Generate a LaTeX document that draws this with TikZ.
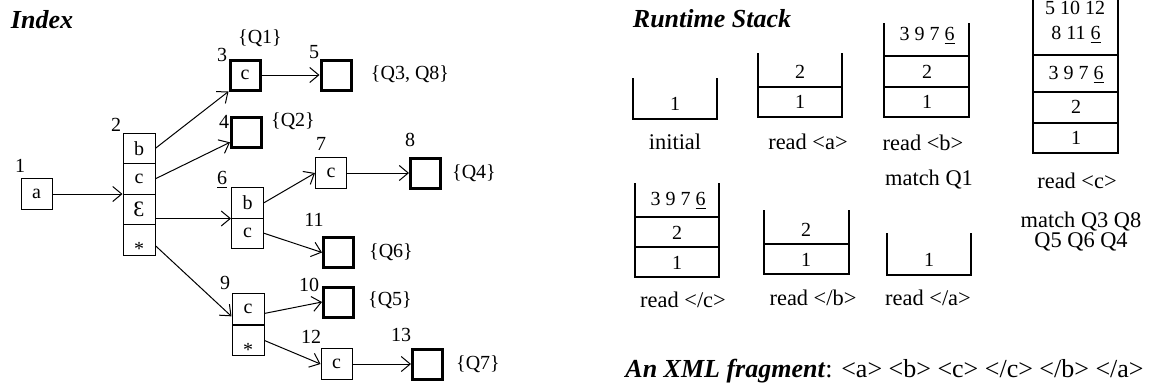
\documentclass[tikz,border=0pt]{standalone}
\usepackage{fontspec}
\setmainfont{Liberation Serif}
\usetikzlibrary{arrows.meta}
\begin{document}
\begin{tikzpicture}[x=0.5pt,y=-0.5pt,
  lbl/.style={font=\fontsize{10}{12}\selectfont, inner sep=0pt},
  stkcap/.style={font=\fontsize{11.2}{13}\selectfont, inner sep=0pt},
  ttl/.style={font=\fontsize{13}{15}\selectfont\bfseries\itshape, inner sep=0pt},
  box/.style={draw, line width=0.5pt, inner sep=0pt, minimum width=15.5pt, minimum height=15.5pt, font=\fontsize{10}{12}\selectfont},
  finalbox/.style={draw, line width=1.5pt, inner sep=0pt, minimum width=15pt, minimum height=15pt, font=\fontsize{10}{12}\selectfont},
  cell/.style={draw, line width=0.5pt, inner sep=0pt, minimum width=16pt, minimum height=15.25pt, font=\fontsize{10}{12}\selectfont},
  arr/.style={-{Straight Barb[length=4.5pt,width=7.5pt]}, line width=0.5pt},
  stk/.style={line width=0.6pt},
  stxt/.style={font=\fontsize{10}{12}\selectfont, inner sep=0pt}
]
\useasboundingbox (0,0) rectangle (1154,391);

% ---------------- Index ----------------
\node[ttl] (tIndex) at (42,20) {Index};

\node[box] (n1) at (36.5,194) {a};

\node[cell] (n2b) at (139,148.25) {b};
\node[cell] (n2c) at (139,178.75) {c};
\node[cell] (n2e) at (139,209.25) {\fontsize{11}{12}\selectfont Ɛ};
\node[cell] (n2s) at (139,239.75) {\smash{\raisebox{-8pt}{*}}};

\node[finalbox] (n3) at (245,75) {c};
\node[finalbox] (n4) at (246.5,132) {};
\node[finalbox] (n5) at (336,75) {};

\node[cell] (n6b) at (247.5,202.75) {b};
\node[cell] (n6c) at (247.5,233.25) {c};

\node[box] (n7) at (331,173) {c};
\node[finalbox] (n8) at (425.5,173) {};

\node[cell] (n9c) at (248,309) {c};
\node[cell] (n9s) at (248,340.5) {\smash{\raisebox{-8pt}{*}}};

\node[finalbox] (n10) at (338.5,302) {};
\node[finalbox] (n11) at (338.5,252.5) {};
\node[box] (n12) at (336.5,364) {c};
\node[finalbox] (n13) at (427.5,364) {};

% numbers
\node[lbl] (l1) at (20,166) {1};
\node[lbl] (l2) at (116,125) {2};
\node[lbl] (l3) at (222,55) {3};
\node[lbl] (l4) at (224,122) {4};
\node[lbl] (l5) at (314,52) {5};
\node[lbl] (l6) at (222,180) {\underline{6}};
\node[lbl] (l7) at (321,144) {7};
\node[lbl] (l8) at (410,140) {8};
\node[lbl] (l9) at (225,283) {9};
\node[lbl] (l10) at (309,285) {10};
\node[lbl] (l11) at (314,220) {11};
\node[lbl] (l12) at (311,337) {12};
\node[lbl] (l13) at (401,335) {13};

% query labels
\node[lbl] (q1) at (260,38) {\{Q1\}};
\node[lbl] (q38) at (410,74) {\{Q3, Q8\}};
\node[lbl] (q2) at (293,121) {\{Q2\}};
\node[lbl] (q4) at (474,173) {\{Q4\}};
\node[lbl] (q6) at (391,252) {\{Q6\}};
\node[lbl] (q5) at (390,300) {\{Q5\}};
\node[lbl] (q7) at (478,364) {\{Q7\}};

% edges
\draw[arr] (n1.east) -- (n1.east -| n2c.south west);
\draw[arr] (n2b.east) -- (n3.south west);
\draw[arr] (n2c.east) -- (n4.212);
\draw[arr] (n2e.east |- n6b.south west) -- (n6b.south west);
\draw[arr] (n2s.-20) -- (n9c.204);
\draw[arr] (n3.east) -- (n5.west);
\draw[arr] (n6b.east) -- (n7.west);
\draw[arr] (n7.east) -- (n8.west);
\draw[arr] (n6c.east) -- (n11.west);
\draw[arr] (n9c.-15) -- (n10.west);
\draw[arr] (n9s.east) -- (n12.west);
\draw[arr] (n12.east) -- (n13.west);

% ---------------- Runtime stack ----------------
\node[ttl] (tStack) at (712,19) {Runtime Stack};

% S1 initial
\draw[stk] (633,78) -- (633,119) -- (717,119) -- (717,78);
\node[stxt] (s1a) at (675,104) {1};
\node[stkcap] (c1) at (675,142) {initial};

% S2 read <a>
\draw[stk] (758,53) -- (758,117) -- (842,117) -- (842,53);
\draw[stk] (758,87) -- (842,87);
\node[stxt] (s2b) at (800,72) {2};
\node[stxt] (s2a) at (800,102) {1};
\node[stkcap] (c2) at (808,142) {read <a>};

% S3 read <b>
\draw[stk] (884,23) -- (884,117) -- (969,117) -- (969,23);
\draw[stk] (884,56) -- (969,56);
\draw[stk] (884,87) -- (969,87);
\node[stxt] (s3c) at (927,36) {3 9 7 \underline{6}};
\node[stxt] (s3b) at (927,72) {2};
\node[stxt] (s3a) at (927,102) {1};
\node[stkcap] (c3) at (923,143) {read <b>};
\node[stkcap] (c3m) at (929,180) {match Q1};

% S4 read <c>
\draw[stk] (1033,0) -- (1033,153) -- (1118,153) -- (1118,0);
\draw[stk] (1033,55) -- (1118,55);
\draw[stk] (1033,92) -- (1118,92);
\draw[stk] (1033,123) -- (1118,123);
\node[stxt] (s4e) at (1075,8) {5 10 12};
\node[stxt] (s4d) at (1076,35) {8 11 \underline{6}};
\node[stxt] (s4c) at (1076,75) {3 9 7 \underline{6}};
\node[stxt] (s4b) at (1076,107) {2};
\node[stxt] (s4a) at (1076,138) {1};
\node[stkcap] (c4) at (1077,181) {read <c>};
\node[stkcap, anchor=base, text depth=0pt] (c4m) at (1081,227) {match Q3 Q8};
\node[stkcap, anchor=base] (c4n) at (1081,247) {Q5 Q6 Q4};

% S5 read </c>
\draw[stk] (635,183) -- (635,277) -- (719,277) -- (719,183);
\draw[stk] (635,217) -- (719,217);
\draw[stk] (635,247) -- (719,247);
\node[stxt] (s5c) at (678,201) {3 9 7 \underline{6}};
\node[stxt] (s5b) at (677,233) {2};
\node[stxt] (s5a) at (677,263) {1};
\node[stkcap] (c5) at (683,300) {read </c>};

% S6 read </b>
\draw[stk] (764,210) -- (764,274) -- (849,274) -- (849,210);
\draw[stk] (764,244) -- (849,244);
\node[stxt] (s6b) at (806,230) {2};
\node[stxt] (s6a) at (806,260) {1};
\node[stkcap] (c6) at (813,298) {read </b>};

% S7 read </a>
\draw[stk] (887,233) -- (887,275) -- (971,275) -- (971,233);
\node[stxt] (s7a) at (929,260) {1};
\node[stkcap] (c7) at (928,298) {read </a>};

% XML fragment
\node[font=\fontsize{13}{15}\selectfont, inner sep=0pt, anchor=west] (xml) at (625,371)
  {\textbf{\textit{An XML fragment}}: <a> <b> <c> </c> </b> </a>};
\end{tikzpicture}
\end{document}
